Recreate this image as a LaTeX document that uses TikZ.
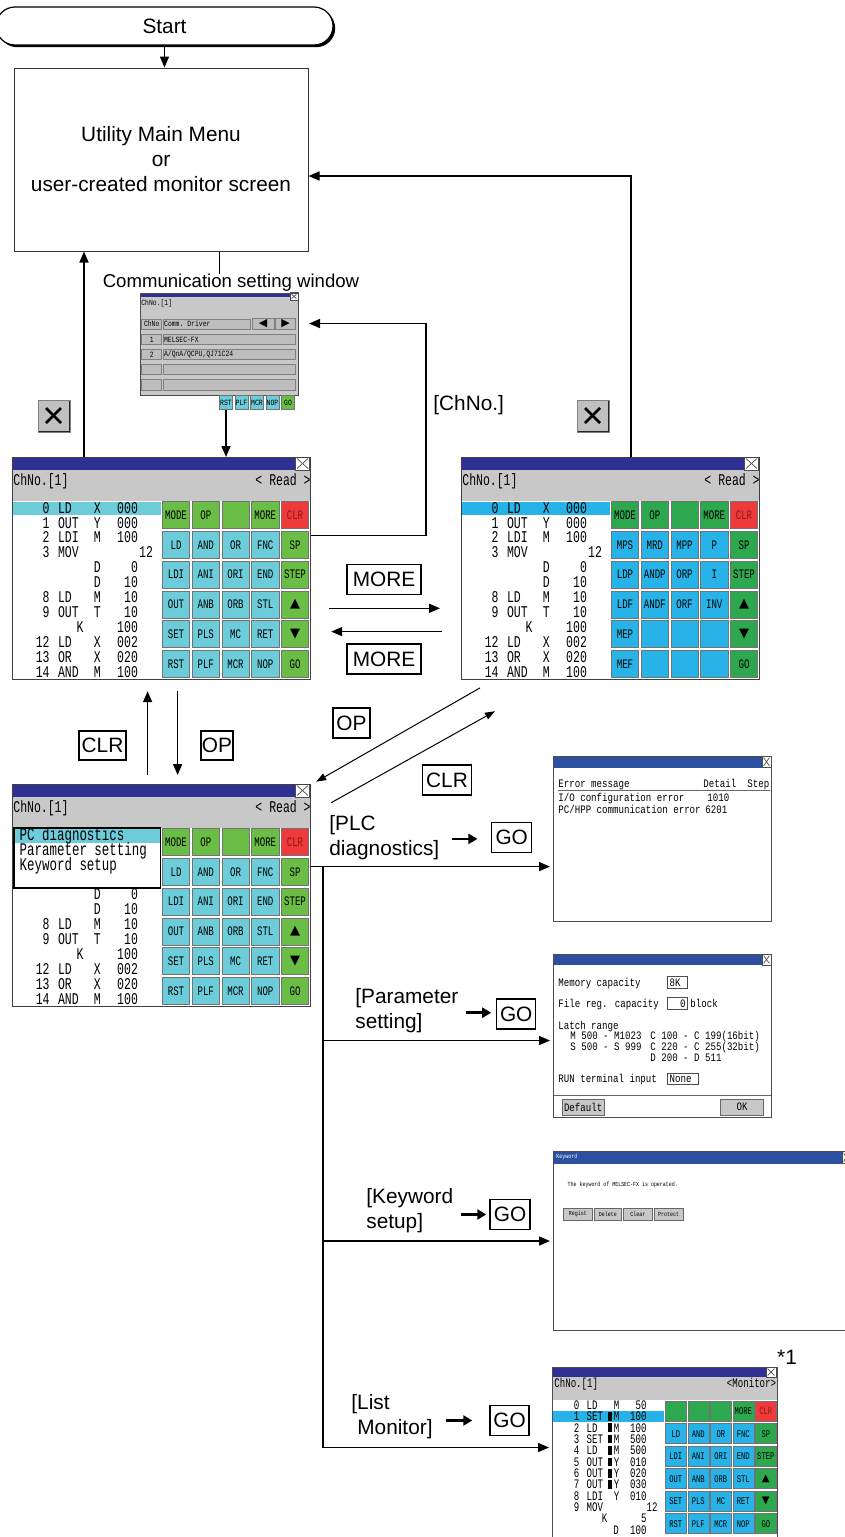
\documentclass[tikz,border=0pt]{standalone}
\usepackage{fontspec}
\setmainfont{Liberation Sans}
\newfontfamily\scrfont[FakeStretch=0.8]{Liberation Mono}
\newfontfamily\scrfontn[FakeStretch=0.7]{Liberation Mono}
\newfontfamily\symfont{DejaVu Sans}
\usetikzlibrary{arrows.meta,shadows}

\definecolor{tbar}{HTML}{2E3192}
\definecolor{tbarb}{HTML}{2C4FA0}
\definecolor{hdr}{HTML}{C8C8C8}
\definecolor{cellg}{HTML}{BDBDBD}
\definecolor{xgray}{HTML}{C0C0C0}
\definecolor{gL}{HTML}{6ABD45}
\definecolor{cL}{HTML}{6CCCD9}
\definecolor{gR}{HTML}{2DA84F}
\definecolor{bR}{HTML}{27B3E7}
\definecolor{rd}{HTML}{EE3A3A}
\definecolor{clrtxt}{HTML}{8B1A1A}

\newcommand{\lblfont}{\fontsize{10.4}{12.5}\selectfont}
\newcommand{\keyfont}{\scrfontn\fontsize{6.5}{6.5}\selectfont}
\newcommand{\lmkeyfont}{\scrfontn\fontsize{5.1}{5.5}\selectfont}
\newcommand{\commfont}{\scrfont\fontsize{4}{4.5}\selectfont}

% key pad of 5 columns: name, x and y of first key, pitch, key options, labels
\newcommand{\keypad}[6]{%
  \foreach \lab/\fc [count=\k from 0] in {#6}{%
    \pgfmathtruncatemacro{\kcol}{mod(\k,5)}%
    \pgfmathtruncatemacro{\krow}{div(\k,5)}%
    \node[kbtn=\fc, #5] (#1-\k) at ({#2+\kcol*#4},{#3+\krow*#4}) {\lab};
  }%
}
% program lines of a ladder screen: name, list y/step/instr/device/value
\newcommand{\proglist}[2]{%
  \foreach \lsy/\lst/\lin/\ldv/\lvl [count=\n] in {#2}{%
    \node[scrtxt, anchor=east] (#1-s\n) at (38,\lsy) {\lst};
    \node[scrtxt, anchor=west] (#1-i\n) at (45.7,\lsy) {\lin};
    \node[scrtxt] (#1-d\n) at (85.3,\lsy) {\ldv};
    \node[scrtxt, anchor=east] (#1-v\n) at (126.3,\lsy) {\lvl};
  }%
}

\begin{document}
\begin{tikzpicture}[
    x=0.5pt, y=-0.5pt,
    % textes
    lbl/.style={font=\lblfont, inner sep=0pt, align=left},
    tag/.style={draw, line width=0.7pt, font=\lblfont, inner sep=0pt, minimum height=15pt},
    scrtxt/.style={font=\scrfontn\fontsize{8.2}{8.5}\selectfont, inner sep=0pt, text height=5.3pt, text depth=0pt},
    poptxt/.style={font=\scrfontn\fontsize{8.9}{9}\selectfont, inner sep=0pt},
    wintxt/.style={font=\scrfont\fontsize{5.7}{6}\selectfont, inner sep=0pt, text height=3.8pt, text depth=0pt},
    lmtxt/.style={font=\scrfontn\fontsize{6.5}{6.5}\selectfont, inner sep=0pt, text height=4.3pt, text depth=0pt},
    kwtxt/.style={font=\scrfont\fontsize{3.1}{3.5}\selectfont, inner sep=0pt},
    commtxt/.style={font=\commfont, inner sep=0pt},
    % boites
    startbox/.style={draw, line width=0.6pt, fill=white, rounded corners=9.5pt,
        minimum width=168.5pt, minimum height=19pt, font=\lblfont,
        drop shadow={shadow xshift=1.1pt, shadow yshift=-1.1pt, fill=black, opacity=1}},
    mainbox/.style={draw=black!80, line width=0.5pt, minimum width=147pt,
        minimum height=91.5pt, align=center, font=\lblfont, inner sep=0pt},
    scrframe/.style={draw=black!75, line width=0.6pt, inner sep=0pt, anchor=north west},
    winframe/.style={draw=black!70, line width=0.5pt, inner sep=0pt, anchor=north west},
    kbtn/.style={draw=black!55, line width=0.3pt, fill=#1, inner sep=0pt},
    cell/.style={draw=black!50, fill=cellg, line width=0.3pt, inner sep=0.6pt,
        font=\commfont, minimum height=5.2pt},
    winbtn/.style={draw=black!60, fill=hdr, line width=0.4pt, inner sep=0pt},
    fieldbox/.style={draw=black!70, line width=0.4pt, inner sep=1pt,
        font=\scrfont\fontsize{5.7}{6}\selectfont, text height=3.8pt, text depth=0pt},
    closebox/.style={draw=black!70, fill=white, line width=0.3pt, inner sep=0pt,
        path picture={
          \draw[line width=0.35pt] ([shift={(0.8pt,-0.8pt)}]path picture bounding box.north west)
              -- ([shift={(-0.8pt,0.8pt)}]path picture bounding box.south east);
          \draw[line width=0.35pt] ([shift={(-0.8pt,-0.8pt)}]path picture bounding box.north east)
              -- ([shift={(0.8pt,0.8pt)}]path picture bounding box.south west);}},
    bigx/.style={draw=black!50, fill=xgray, minimum size=16pt, inner sep=0pt,
        path picture={
          \draw[line width=1.4pt, black] ([shift={(4pt,-4pt)}]path picture bounding box.north west)
              -- ([shift={(-4.5pt,4.5pt)}]path picture bounding box.south east);
          \draw[line width=1.4pt, black] ([shift={(-4.5pt,-4pt)}]path picture bounding box.north east)
              -- ([shift={(4pt,4.5pt)}]path picture bounding box.south west);
          \draw[line width=1.5pt, black!85] (path picture bounding box.north east)
              -- (path picture bounding box.south east) -- (path picture bounding box.south west);}},
    % liaisons
    conn/.style={line width=0.8pt},
    flow/.style={line width=0.8pt, -{Triangle[length=5.5pt,width=4.5pt]}},
    diag/.style={line width=0.5pt, -{Triangle[length=5pt,width=3.6pt]}},
    goarr/.style={line width=1.3pt, -{Triangle[length=4.5pt,width=5pt]}}
]
\useasboundingbox (0,0) rectangle (845,1537);

% ---- START / MAIN MENU ----
\node[startbox] (start) at (164.5,26) {Start};
\node[mainbox] (main) at (161,159.5) {Utility Main Menu\\or\\user-created monitor screen};
\draw[flow] (start.south) -- (start.south |- main.north);

% ---- COMMUNICATION SETTING WINDOW ----
\node[lbl, font=\fontsize{9.3}{11}\selectfont] (commlbl) at (231,283) {Communication setting window};
\begin{scope}[shift={(140,292.7)}]
  \fill[hdr] (0,0) rectangle (158,102);
  \fill[tbar] (0,0) rectangle (158,4.7);
  \node[closebox, minimum width=4pt, minimum height=3.7pt] (cw-x) at (154,3.7) {};
  \node[commtxt, anchor=west] (cw-ch) at (1,10.6) {ChNo.[1]};
  \node[cell, minimum width=10pt] (cw-h1) at (11.7,31.3) {ChNo};
  \node[cell, text width=42.6pt, align=left] (cw-h2) at (66.8,31.3) {Comm. Driver};
  \node[cell, minimum width=11pt, font=\symfont\fontsize{5.5}{6}\selectfont] (cw-l) at (123,31.3) {◀};
  \node[cell, minimum width=10pt, font=\symfont\fontsize{5.5}{6}\selectfont] (cw-r) at (145.7,31.3) {▶};
  \node[cell, minimum width=10pt] (cw-n1) at (11.7,46.8) {1};
  \node[cell, text width=65.2pt, align=left] (cw-d1) at (89.3,46.8) {MELSEC-FX};
  \node[cell, minimum width=10pt] (cw-n2) at (11.7,61.8) {2};
  \node[cell, text width=65.2pt, align=left] (cw-d2) at (89.3,61.8) {A/QnA/QCPU,QJ71C24};
  \node[cell, minimum width=10pt] (cw-n3) at (11.7,76.8) {};
  \node[cell, text width=65.2pt] (cw-d3) at (89.3,76.8) {};
  \node[cell, minimum width=10pt] (cw-n4) at (11.7,92.1) {};
  \node[cell, text width=65.2pt] (cw-d4) at (89.3,92.1) {};
  \node[winframe, minimum width=79pt, minimum height=51pt] (commwin) at (0,0) {};
  \keypad{ck}{86}{109.8}{15.5}{minimum width=6.5pt, minimum height=7pt, font=\commfont}
    {RST/cL, PLF/cL, MCR/cL, NOP/cL, GO/gL}
\end{scope}

% ---- LEFT SCREEN (READ) ----
\begin{scope}[shift={(12,457)}]
  \fill[tbar] (0,0) rectangle (298,13);
  \fill[hdr] (0,13) rectangle (298,44);
  \node[closebox, minimum width=7pt, minimum height=6.5pt] (sL-x) at (290.5,6.5) {};
  \node[scrtxt, anchor=west] (sL-ch) at (1,23) {ChNo.[1]};
  \node[scrtxt, anchor=east] (sL-rd) at (299,23) {< Read >};
  \fill[cL] (0,44.5) rectangle (149,57.5);
  \proglist{sL}{50.7/0/LD/X/000, 65.7/1/OUT/Y/000, 80.6/2/LDI/M/100, 95.6/3/MOV//,
    110.5///D/0, 125.5///D/10, 140.5/8/LD/M/10, 155.4/9/OUT/T/10,
    185.3/12/LD/X/002, 200.3/13/OR/X/020, 215.3/14/AND/M/100}
  \node[scrtxt, anchor=east] (sL-mov) at (141.3,95.6) {12};
  \node[scrtxt] (sL-k) at (68,170.4) {K};
  \node[scrtxt, anchor=east] (sL-kv) at (126.3,170.4) {100};
  \keypad{kL}{164}{58.2}{29.75}{minimum width=13.65pt, minimum height=13.5pt, font=\keyfont}
    {MODE/gL, OP/gL, /gL, MORE/gL, \textcolor{clrtxt}{CLR}/rd,
     LD/cL, AND/cL, OR/cL, FNC/cL, SP/gL,
     LDI/cL, ANI/cL, ORI/cL, END/cL, STEP/gL,
     OUT/cL, ANB/cL, ORB/cL, STL/cL, {\symfont ▲}/gL,
     SET/cL, PLS/cL, MC/cL, RET/cL, {\symfont ▼}/gL,
     RST/cL, PLF/cL, MCR/cL, NOP/cL, GO/gL}
  \node[scrframe, minimum width=149pt, minimum height=111pt] (scrL) at (0,0) {};
\end{scope}

% ---- RIGHT SCREEN (READ, MORE) ----
\begin{scope}[shift={(461,457)}]
  \fill[tbar] (0,0) rectangle (298,13);
  \fill[hdr] (0,13) rectangle (298,44);
  \node[closebox, minimum width=7pt, minimum height=6.5pt] (sR-x) at (290.5,6.5) {};
  \node[scrtxt, anchor=west] (sR-ch) at (1,23) {ChNo.[1]};
  \node[scrtxt, anchor=east] (sR-rd) at (299,23) {< Read >};
  \fill[bR] (0,44.5) rectangle (149,57.5);
  \proglist{sR}{50.7/0/LD/X/000, 65.7/1/OUT/Y/000, 80.6/2/LDI/M/100, 95.6/3/MOV//,
    110.5///D/0, 125.5///D/10, 140.5/8/LD/M/10, 155.4/9/OUT/T/10,
    185.3/12/LD/X/002, 200.3/13/OR/X/020, 215.3/14/AND/M/100}
  \node[scrtxt, anchor=east] (sR-mov) at (141.3,95.6) {12};
  \node[scrtxt] (sR-k) at (68,170.4) {K};
  \node[scrtxt, anchor=east] (sR-kv) at (126.3,170.4) {100};
  \keypad{kR}{164}{58.2}{29.75}{minimum width=13.65pt, minimum height=13.5pt, font=\keyfont}
    {MODE/gR, OP/gR, /gR, MORE/gR, \textcolor{clrtxt}{CLR}/rd,
     MPS/bR, MRD/bR, MPP/bR, P/bR, SP/gR,
     LDP/bR, ANDP/bR, ORP/bR, I/bR, STEP/gR,
     LDF/bR, ANDF/bR, ORF/bR, INV/bR, {\symfont ▲}/gR,
     MEP/bR, /bR, /bR, /bR, {\symfont ▼}/gR,
     MEF/bR, /bR, /bR, /bR, GO/gR}
  \node[scrframe, minimum width=149pt, minimum height=111pt] (scrR) at (0,0) {};
\end{scope}

% ---- LOWER SCREEN (OP MENU) ----
\begin{scope}[shift={(12,784)}]
  \fill[tbar] (0,0) rectangle (298,13);
  \fill[hdr] (0,13) rectangle (298,44);
  \node[closebox, minimum width=7pt, minimum height=6.5pt] (sD-x) at (290.5,6.5) {};
  \node[scrtxt, anchor=west] (sD-ch) at (1,23) {ChNo.[1]};
  \node[scrtxt, anchor=east] (sD-rd) at (299,23) {< Read >};
  \fill[cL] (1.3,43.3) rectangle (148,58.7);
  \node[poptxt, anchor=base west] (pop1) at (7.3,56.5) {PC diagnostics};
  \node[poptxt, anchor=base west] (pop2) at (7.3,71.5) {Parameter setting};
  \node[poptxt, anchor=base west] (pop3) at (7.3,86.3) {Keyword setup};
  \node[draw, line width=0.6pt, inner sep=0pt, anchor=north west,
        minimum width=73.35pt, minimum height=30pt] (popup) at (1.3,43.3) {};
  \proglist{sD}{110.5///D/0, 125.5///D/10, 140.5/8/LD/M/10, 155.4/9/OUT/T/10,
    185.3/12/LD/X/002, 200.3/13/OR/X/020, 215.3/14/AND/M/100}
  \node[scrtxt] (sD-k) at (68,170.4) {K};
  \node[scrtxt, anchor=east] (sD-kv) at (126.3,170.4) {100};
  \keypad{kD}{164}{58.2}{29.75}{minimum width=13.65pt, minimum height=13.5pt, font=\keyfont}
    {MODE/gL, OP/gL, /gL, MORE/gL, \textcolor{clrtxt}{CLR}/rd,
     LD/cL, AND/cL, OR/cL, FNC/cL, SP/gL,
     LDI/cL, ANI/cL, ORI/cL, END/cL, STEP/gL,
     OUT/cL, ANB/cL, ORB/cL, STL/cL, {\symfont ▲}/gL,
     SET/cL, PLS/cL, MC/cL, RET/cL, {\symfont ▼}/gL,
     RST/cL, PLF/cL, MCR/cL, NOP/cL, GO/gL}
  \node[scrframe, minimum width=149pt, minimum height=111pt] (scrD) at (0,0) {};
\end{scope}

% ---- PLC DIAGNOSTICS WINDOW ----
\begin{scope}[shift={(553,756)}]
  \fill[tbarb] (0,0) rectangle (218,11.5);
  \node[closebox, minimum width=4.5pt, minimum height=5.75pt] (err-x) at (213.5,5.75) {};
  \node[wintxt, anchor=west] (err-h1) at (5,27.3) {Error message};
  \node[wintxt, anchor=west] (err-h2) at (150,27.3) {Detail};
  \node[wintxt, anchor=west] (err-h3) at (194,27.3) {Step};
  \draw[black!60, line width=0.4pt] (5,34) -- (217,34);
  \node[wintxt, anchor=west] (err-e1) at (5,41.3) {I/O configuration error};
  \node[wintxt, anchor=west] (err-c1) at (154,41.3) {1010};
  \node[wintxt, anchor=west] (err-e2) at (5,54) {PC/HPP communication error};
  \node[wintxt, anchor=west] (err-c2) at (152,54) {6201};
  \node[winframe, minimum width=109pt, minimum height=82.5pt] (errwin) at (0,0) {};
\end{scope}

% ---- PARAMETER WINDOW ----
\begin{scope}[shift={(553,954)}]
  \fill[tbarb] (0,0) rectangle (218,11);
  \node[closebox, minimum width=4.5pt, minimum height=5.5pt] (par-x) at (213.5,5.5) {};
  \node[wintxt, anchor=west] (par-t1) at (5,28.3) {Memory capacity};
  \node[fieldbox, anchor=west, text width=8pt, align=left] (par-f1) at (114.3,28.5) {8K};
  \node[wintxt, anchor=west] (par-t2) at (5,49.3) {File reg. capacity};
  \node[fieldbox, anchor=west, text width=8pt, align=right] (par-f2) at (114.3,49.5) {0};
  \node[wintxt, anchor=west] (par-t3) at (137,49.3) {block};
  \node[wintxt, anchor=west] (par-t4) at (5,72) {Latch range};
  \node[wintxt, anchor=west] (par-m) at (17,82) {M 500 - M1023};
  \node[wintxt, anchor=west] (par-c1) at (97,82) {C 100 - C 199(16bit)};
  \node[wintxt, anchor=west] (par-s) at (17,92.7) {S 500 - S 999};
  \node[wintxt, anchor=west] (par-c2) at (97,92.7) {C 220 - C 255(32bit)};
  \node[wintxt, anchor=west] (par-d) at (97,103.3) {D 200 - D 511};
  \node[wintxt, anchor=west] (par-t5) at (5,125) {RUN terminal input};
  \node[fieldbox, anchor=west, text width=13.5pt, align=left] (par-f3) at (114.3,125) {None};
  \draw[black!60, line width=0.4pt] (0,141.7) -- (218,141.7);
  \node[winbtn, minimum width=20.85pt, minimum height=8pt, font=\scrfont\fontsize{5.7}{6}\selectfont] (par-def) at (30.15,153) {Default};
  \node[winbtn, minimum width=21.3pt, minimum height=8pt, font=\scrfont\fontsize{5.7}{6}\selectfont] (par-ok) at (189,153) {OK};
  \node[winframe, minimum width=109pt, minimum height=81.5pt] (parwin) at (0,0) {};
\end{scope}

% ---- KEYWORD WINDOW ----
\begin{scope}[shift={(553,1151)}]
  \fill[tbarb] (0,0) rectangle (300,12.7);
  \node[kwtxt, text=white, anchor=west] (kw-t) at (3,6.3) {Keyword};
  \node[closebox, minimum width=4pt, minimum height=6pt] (kw-x) at (293,6.3) {};
  \node[kwtxt, anchor=west] (kw-msg) at (14.3,34.3) {The keyword of MELSEC-FX is operated.};
  \node[winbtn, minimum width=14.5pt, minimum height=6.35pt, font=\scrfont\fontsize{3.1}{3.5}\selectfont] (kw-b1) at (24.8,63.3) {Regist};
  \node[winbtn, minimum width=13.85pt, minimum height=6.35pt, font=\scrfont\fontsize{3.1}{3.5}\selectfont] (kw-b2) at (54.85,63.3) {Delete};
  \node[winbtn, minimum width=14.5pt, minimum height=6.35pt, font=\scrfont\fontsize{3.1}{3.5}\selectfont] (kw-b3) at (84.8,63.3) {Clear};
  \node[winbtn, minimum width=14.65pt, minimum height=6.35pt, font=\scrfont\fontsize{3.1}{3.5}\selectfont] (kw-b4) at (115.65,63.3) {Protect};
  \node[winframe, minimum width=150pt, minimum height=89.5pt] (kwwin) at (0,0) {};
\end{scope}

% ---- LIST MONITOR SCREEN ----
\begin{scope}[shift={(552,1367)}]
  \fill[tbar] (0,0) rectangle (225,10);
  \fill[hdr] (0,10) rectangle (225,33);
  \node[closebox, minimum width=5pt, minimum height=5pt] (lm-x) at (219,5) {};
  \node[lmtxt, anchor=west] (lm-ch) at (2,16.3) {ChNo.[1]};
  \node[lmtxt, anchor=east] (lm-mon) at (224.5,16.3) {<Monitor>};
  \fill[bR] (0,43.7) rectangle (111.7,55.3);
  \foreach \lsy/\lst/\lin/\ldv/\lvl [count=\n] in {38/0/LD/M/50, 49.4/1/SET/M/100,
      60.7/2/LD/M/100, 72.1/3/SET/M/500, 83.4/4/LD/M/500, 94.8/5/OUT/Y/010,
      106.2/6/OUT/Y/020, 117.5/7/OUT/Y/030, 128.9/8/LDI/Y/010, 140.2/9/MOV//}{
    \node[lmtxt, anchor=east] (lm-s\n) at (27.7,\lsy) {\lst};
    \node[lmtxt, anchor=west] (lm-i\n) at (34.3,\lsy) {\lin};
    \node[lmtxt] (lm-d\n) at (64.5,\lsy) {\ldv};
    \node[lmtxt, anchor=east] (lm-v\n) at (95,\lsy) {\lvl};
  }
  \foreach \my in {49.4,60.7,72.1,83.4,94.8,106.2,117.5}
    \fill (56.3,\my-4.3) rectangle (60.3,\my+4.3);
  \node[lmtxt, anchor=east] (lm-mov) at (106,140.2) {12};
  \node[lmtxt] (lm-k) at (52.7,151.6) {K};
  \node[lmtxt, anchor=east] (lm-kv) at (95,151.6) {5};
  \node[lmtxt] (lm-dd) at (64,163) {D};
  \node[lmtxt, anchor=east] (lm-dv) at (95,163) {100};
  \keypad{km}{123.8}{44.2}{22.5}{minimum width=10.5pt, minimum height=10pt, font=\lmkeyfont}
    {/gR, /gR, /gR, MORE/gR, \textcolor{clrtxt}{CLR}/rd,
     LD/bR, AND/bR, OR/bR, FNC/bR, SP/gR,
     LDI/bR, ANI/bR, ORI/bR, END/bR, STEP/gR,
     OUT/bR, ANB/bR, ORB/bR, STL/bR, {\symfont ▲}/gR,
     SET/bR, PLS/bR, MC/bR, RET/bR, {\symfont ▼}/gR,
     RST/bR, PLF/bR, MCR/bR, NOP/bR, GO/gR}
  \node[winframe, minimum width=112.5pt, minimum height=87.5pt] (lmon) at (0,0) {};
\end{scope}
\node[lbl] (star1) at (787,1357) {*1};

% ---- LIAISONS: MENU / COMM / READ ----
\draw[conn] (main.south -| commwin.south) -- (commlbl.north -| commwin.south);
\draw[flow] (ck-0.south) -- (ck-0.south |- scrL.north);
\draw[flow] ([xshift=36pt]scrL.north west) -- ([xshift=36pt]scrL.north west |- main.south);
\draw[flow] ([xshift=85pt]scrR.north west) |- ([yshift=-8.25pt]main.east);
\draw[flow, shorten >=5pt] ([yshift=16.5pt]scrL.east) -- ++(57.5pt,0) |- ([yshift=10.35pt]commwin.east);
\node[bigx] (xL) at (54,416) {};
\node[bigx] (xR) at (593,416) {};
\node[lbl, anchor=west] (lchno) at (433,405) {[ChNo.]};

% ---- MORE ----
\draw[flow] ([xshift=9pt,yshift=-19.85pt]scrL.east) -- ([xshift=-10.5pt,yshift=-19.85pt]scrR.west);
\draw[flow] ([xshift=-9.65pt,yshift=-31.5pt]scrR.west) -- ([xshift=10pt,yshift=-31.5pt]scrL.east);
\node[tag, minimum width=37pt] (more1) at (384,579.5) {MORE};
\node[tag, minimum width=37pt] (more2) at (384,659) {MORE};

% ---- OP / CLR ----
\draw[diag] ([xshift=9.5pt,yshift=-3.85pt]scrR.south west) -- ([xshift=2.5pt,yshift=1.15pt]scrD.north east);
\draw[diag] ([xshift=10pt,yshift=-9.35pt]scrD.north east) -- ([xshift=17pt,yshift=-15.5pt]scrR.south west);
\node[tag, minimum width=18.5pt] (op1) at (351.5,723) {OP};
\node[tag, minimum width=24.5pt] (clr1) at (447,780) {CLR};
\draw[flow] ([xshift=-7pt,yshift=4.5pt]scrD.north) -- ([xshift=-7pt,yshift=-5.5pt]scrL.south);
\draw[flow] ([xshift=8pt,yshift=-5.5pt]scrL.south) -- ([xshift=8pt,yshift=4.5pt]scrD.north);
\node[tag, minimum width=23.5pt, minimum height=14.5pt] (clr2) at (102.5,745.5) {CLR};
\node[tag, minimum width=16pt, minimum height=14.5pt] (op2) at (217,745.5) {OP};

% ---- BRANCHES GO ----
\coordinate (trunk) at ([xshift=6pt,yshift=14.5pt]scrD.east);
\draw[flow, shorten >=1.5pt] ([yshift=14.5pt]scrD.east) -- ([yshift=14.5pt]scrD.east -| errwin.west);
\draw[flow, shorten >=1.5pt] (trunk) |- ([yshift=-2.25pt]parwin.west);
\draw[flow, shorten >=1.5pt] (trunk) |- (kwwin.west);
\draw[flow, shorten >=1.5pt] (trunk) |- ([yshift=3.75pt]lmon.west);

\node[lbl, anchor=west] (lplc) at (329,837.5) {[PLC\\diagnostics]};
\node[tag, minimum width=20pt] (go1) at (511.7,837.7) {GO};
\draw[goarr] ([xshift=-19.5pt,yshift=-0.6pt]go1.west) -- ([xshift=-6.8pt,yshift=-0.6pt]go1.west);

\node[lbl, anchor=west] (lpar) at (355,1010.5) {[Parameter\\setting]};
\node[tag, minimum width=19.5pt] (go2) at (516.2,1014) {GO};
\draw[goarr] ([xshift=-14.9pt,yshift=0.65pt]go2.west) -- ([xshift=-2.4pt,yshift=0.65pt]go2.west);

\node[lbl, anchor=west] (lkey) at (366,1210.5) {[Keyword\\setup]};
\node[tag, minimum width=20pt] (go3) at (510,1214.5) {GO};
\draw[goarr] ([xshift=-14pt]go3.west) -- ([xshift=-1.5pt]go3.west);

\node[lbl, anchor=west] (llist) at (351,1417) {[List\\\hspace*{3pt}Monitor]};
\node[tag, minimum width=19.5pt] (go4) at (509.5,1420.5) {GO};
\draw[goarr] ([xshift=-21.5pt]go4.west) -- ([xshift=-8.5pt]go4.west);

\end{tikzpicture}
\end{document}
